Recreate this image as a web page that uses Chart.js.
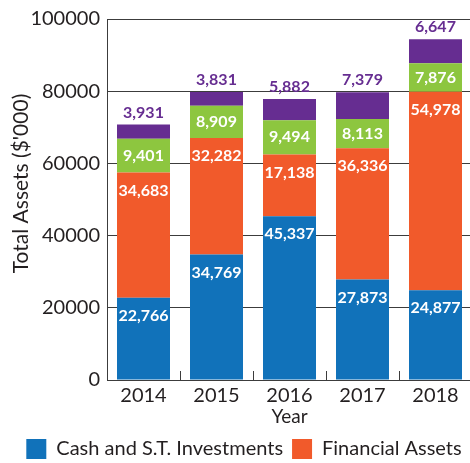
<!DOCTYPE html>
<html>
<head>
<meta charset="utf-8">
<script src="https://cdn.jsdelivr.net/npm/chart.js@4.4.1/dist/chart.umd.min.js"></script>
<style>
  html, body { margin: 0; padding: 0; background: #fff; overflow: hidden; }
  #wrap { width: 472px; height: 463px; }
</style>
</head>
<body>
<div id="wrap"><canvas id="assets_chart" width="472" height="463"></canvas></div>
<script>
var years = ['2014', '2015', '2016', '2017', '2018'];
var cash_data = [22766, 34769, 45337, 27873, 24877];
var financial_data = [34683, 32282, 17138, 36336, 54978];
var other_data = [9401, 8909, 9494, 8113, 7876];
var property_data = [3931, 3831, 5882, 7379, 6647];
var y_ticks = [0, 20000, 40000, 60000, 80000, 100000];
var y_title = "Total Assets ($'000)";

var textColor = '#231f20';
var lineColor = '#3c3c3c';

// white labels inside the segments, purple ones above the bars
var segmentLabels = {
    id: 'segmentLabels',
    afterDatasetsDraw: function (chart) {
        var ctx = chart.ctx;
        var sets = chart.data.datasets;
        ctx.save();
        ctx.font = 'bold 16px Lato';
        ctx.textAlign = 'center';
        ctx.textBaseline = 'middle';
        for (var i = 0; i < sets.length; i++) {
            var meta = chart.getDatasetMeta(i);
            for (var j = 0; j < meta.data.length; j++) {
                var bar = meta.data[j];
                var txt = sets[i].data[j].toLocaleString('en-US');
                if (i === sets.length - 1) {
                    ctx.fillStyle = sets[i].backgroundColor;
                    ctx.fillText(txt, bar.x, bar.y - 12);
                } else {
                    var mid = (bar.y + bar.base) / 2;
                    ctx.fillStyle = '#ffffff';
                    ctx.fillText(txt, bar.x, Math.min(bar.y + 18, mid));
                }
            }
        }
        ctx.restore();
    }
};

// small inward ticks on the x axis between the categories,
// and the y axis title (sits a bit above the middle of the axis)
var axisExtras = {
    id: 'axisExtras',
    afterDatasetsDraw: function (chart) {
        var ctx = chart.ctx;
        var x = chart.scales.x;
        var area = chart.chartArea;
        ctx.save();
        ctx.strokeStyle = lineColor;
        ctx.lineWidth = 1;
        for (var i = 1; i < years.length; i++) {
            var px = Math.round((x.getPixelForValue(i - 1) + x.getPixelForValue(i)) / 2) + 0.5;
            ctx.beginPath();
            ctx.moveTo(px, area.bottom);
            ctx.lineTo(px, area.bottom - 9);
            ctx.stroke();
        }
        ctx.translate(21, (area.top + area.bottom) / 2 - 16);
        ctx.rotate(-Math.PI / 2);
        ctx.font = '21px Lato';
        ctx.fillStyle = textColor;
        ctx.textAlign = 'center';
        ctx.textBaseline = 'middle';
        ctx.fillText(y_title, 0, 0);
        ctx.restore();
    }
};

function buildChart() {
    var el = document.getElementById('assets_chart');
    var chart = new Chart(el, {
        type: 'bar',
        data: {
            labels: years,
            datasets: [{
                label: 'Cash and S.T. Investments',
                data: cash_data,
                backgroundColor: '#1172ba'
            },
            {
                label: 'Financial Assets',
                data: financial_data,
                backgroundColor: '#f15a2b'
            },
            {
                label: 'Other Assets',
                data: other_data,
                backgroundColor: '#8dc63f'
            },
            {
                label: 'Property',
                data: property_data,
                backgroundColor: '#662d91'
            }]
        },
        options: {
            responsive: false,
            animation: false,
            layout: { padding: { top: 16, left: 16, right: 0, bottom: -6 } },
            datasets: {
                bar: { barPercentage: 0.726, categoryPercentage: 1, borderWidth: 0 }
            },
            scales: {
                x: {
                    stacked: true,
                    grid: { display: false, drawTicks: false },
                    border: { display: true, color: lineColor, width: 1 },
                    ticks: { color: textColor, font: { family: 'Lato', size: 20 }, padding: 4 },
                    title: { display: true, text: 'Year', color: textColor, font: { family: 'Lato', size: 19 }, padding: { top: 0, bottom: 2 } },
                    afterFit: function (s) { s.height = 50; }
                },
                y: {
                    stacked: true,
                    min: 0,
                    max: 100000,
                    afterBuildTicks: function (s) {
                        s.ticks = y_ticks.map(function (v) { return { value: v }; });
                    },
                    grid: { color: lineColor, lineWidth: 1, drawTicks: false },
                    border: { display: true, color: lineColor, width: 1 },
                    ticks: {
                        color: textColor,
                        font: { family: 'Lato', size: 20 },
                        padding: 7,
                        callback: function (v) { return String(v); }
                    },
                    afterFit: function (s) { s.width = 91; }
                }
            },
            plugins: {
                legend: {
                    display: true,
                    position: 'bottom',
                    labels: {
                        color: textColor,
                        font: { family: 'Lato', size: 20 },
                        boxWidth: 20,
                        boxHeight: 20,
                        padding: 9,
                        filter: function (item) { return item.datasetIndex < 2; }
                    }
                },
                tooltip: { enabled: false }
            }
        },
        plugins: [segmentLabels, axisExtras]
    });
}

buildChart();
</script>
</body>
</html>
